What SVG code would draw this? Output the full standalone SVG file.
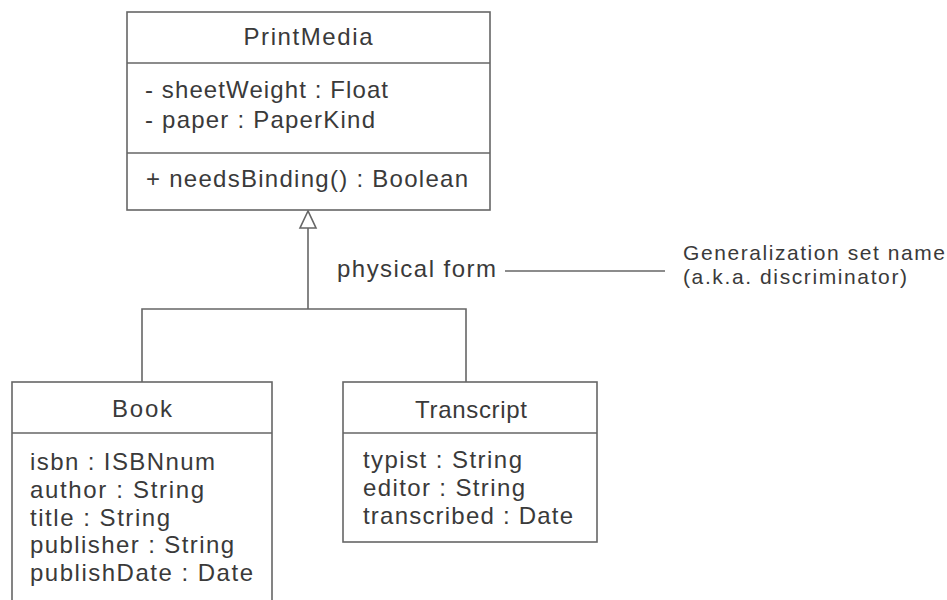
<svg xmlns="http://www.w3.org/2000/svg" width="947" height="600" viewBox="0 0 947 600">
<style>
.box{fill:#fff;stroke:#666;stroke-width:1.6}
.ln{stroke:#666;stroke-width:1.6;fill:none}
text{font-family:"Liberation Sans",Arial,sans-serif;font-size:24px;fill:#3a3a3a}
.t{text-anchor:middle}
.note{font-size:21px}
</style>
<rect width="947" height="600" fill="#fff"/>
<g id="connectors">
<polyline class="ln" points="308,228 308,309"/>
<polyline class="ln" points="142,382 142,309 466,309 466,382"/>
<polygon points="308,211 300,228 316,228" fill="#fff" stroke="#666" stroke-width="1.6"/>
<line class="ln" x1="505" y1="271" x2="665" y2="271"/>
</g>
<g id="PrintMedia">
<rect class="box" x="127" y="12" width="363" height="198"/>
<line class="ln" x1="127" y1="63" x2="490" y2="63"/>
<line class="ln" x1="127" y1="153" x2="490" y2="153" stroke-width="2.4"/>
<text class="t" x="308" y="45" textLength="129" lengthAdjust="spacing">PrintMedia</text>
<text x="145" y="98" textLength="243" lengthAdjust="spacing">- sheetWeight : Float</text>
<text x="145" y="128" textLength="230" lengthAdjust="spacing">- paper : PaperKind</text>
<text x="146" y="187" textLength="322" lengthAdjust="spacing">+ needsBinding() : Boolean</text>
</g>
<g id="Book">
<rect class="box" x="12" y="382" width="260" height="240"/>
<line class="ln" x1="12" y1="433" x2="272" y2="433"/>
<text class="t" x="142" y="417" textLength="60" lengthAdjust="spacing">Book</text>
<text x="30" y="470" textLength="185" lengthAdjust="spacing">isbn : ISBNnum</text>
<text x="30" y="498" textLength="174" lengthAdjust="spacing">author : String</text>
<text x="30" y="526" textLength="140" lengthAdjust="spacing">title : String</text>
<text x="30" y="553" textLength="204" lengthAdjust="spacing">publisher : String</text>
<text x="30" y="581" textLength="223" lengthAdjust="spacing">publishDate : Date</text>
</g>
<g id="Transcript">
<rect class="box" x="343" y="382" width="254" height="160"/>
<line class="ln" x1="343" y1="433" x2="597" y2="433"/>
<text class="t" x="471" y="418" textLength="112" lengthAdjust="spacing">Transcript</text>
<text x="363" y="468" textLength="159" lengthAdjust="spacing">typist : String</text>
<text x="363" y="496" textLength="162" lengthAdjust="spacing">editor : String</text>
<text x="363" y="524" textLength="210" lengthAdjust="spacing">transcribed : Date</text>
</g>
<g id="labels">
<text x="337" y="277" textLength="159" lengthAdjust="spacing">physical form</text>
<text class="note" x="683" y="260" textLength="262" lengthAdjust="spacing">Generalization set name</text>
<text class="note" x="683" y="284" textLength="224" lengthAdjust="spacing">(a.k.a. discriminator)</text>
</g>
</svg>
